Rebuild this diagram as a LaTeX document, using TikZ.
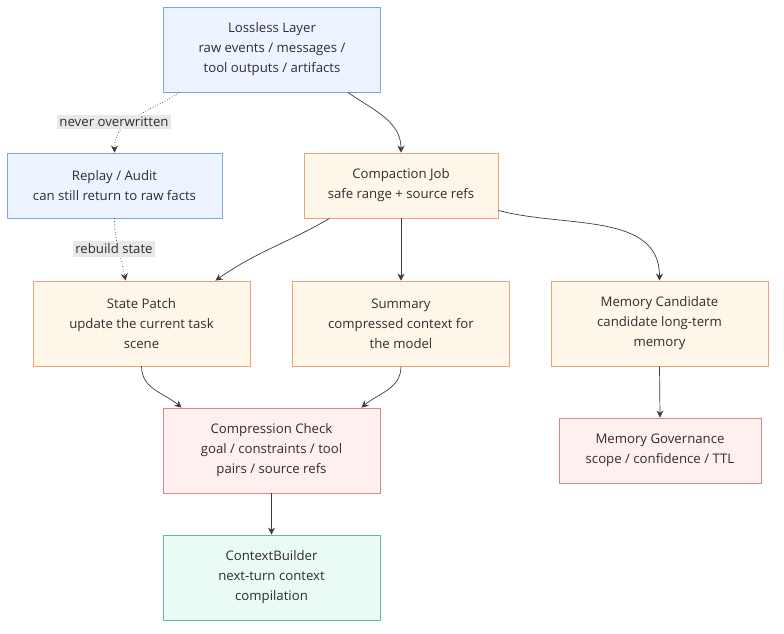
\documentclass[tikz,border=0pt]{standalone}
\usepackage{fontspec}
\setmainfont{Open Sans}
\usetikzlibrary{arrows.meta}

\definecolor{textgray}{HTML}{2E2E2E}
\definecolor{linegray}{HTML}{3C3C3C}
\definecolor{labelbg}{HTML}{E8E8E8}
\definecolor{bluefill}{HTML}{EDF4FF}
\definecolor{blueline}{HTML}{7BA6E6}
\definecolor{orangefill}{HTML}{FFF6EA}
\definecolor{orangeline}{HTML}{EFA273}
\definecolor{redfill}{HTML}{FFF0F0}
\definecolor{redline}{HTML}{E08585}
\definecolor{greenfill}{HTML}{EAFBF3}
\definecolor{greenline}{HTML}{5BBE97}

\tikzset{
  box/.style={draw, rectangle, align=center, text=textgray, line width=0.9pt,
    font=\fontsize{13.2}{20}\selectfont, minimum width=217, minimum height=85},
  bluebox/.style={box, fill=bluefill, draw=blueline},
  orangebox/.style={box, fill=orangefill, draw=orangeline},
  redbox/.style={box, fill=redfill, draw=redline},
  greenbox/.style={box, fill=greenfill, draw=greenline},
  flow/.style={->, >={Stealth[length=7pt,width=7pt]}, draw=linegray, line width=0.7pt},
  dots/.style={flow, dotted},
  edgelabel/.style={fill=labelbg, text=textgray, inner sep=2.5pt,
    font=\fontsize{13.2}{15}\selectfont}
}

\begin{document}
\begin{tikzpicture}[x=1pt,y=-1pt]
  \useasboundingbox (0,0) rectangle (784,634);

  % top
  \node[bluebox] (lossless) at (272,49.5)
    {Lossless Layer\\raw events / messages /\\tool outputs / artifacts};

  % second row
  \node[bluebox, minimum width=215, minimum height=65] (replay) at (114.5,185.5)
    {Replay / Audit\\can still return to raw facts};
  \node[orangebox, minimum width=194, minimum height=65] (compact) at (401,185.5)
    {Compaction Job\\safe range + source refs};

  % third row
  \node[orangebox] (patch) at (141.5,323.5)
    {State Patch\\update the current task\\scene};
  \node[orangebox] (summary) at (401,323.5)
    {Summary\\compressed context for\\the model};
  \node[orangebox] (candidate) at (659.5,323.5)
    {Memory Candidate\\candidate long-term\\memory};

  % checks
  \node[redbox] (check) at (271.5,450.5)
    {Compression Check\\goal / constraints / tool\\pairs / source refs};
  \node[redbox, minimum width=202, minimum height=65] (governance) at (660,450.5)
    {Memory Governance\\scope / confidence / TTL};

  % output
  \node[greenbox] (builder) at (271.5,577.5)
    {ContextBuilder\\next-turn context\\compilation};

  % edges
  \draw[dots] ([xshift=16]lossless.south west) to[out=-145,in=90] (replay.north);
  \draw[flow] ([xshift=-33]lossless.south east) to[out=-35,in=90] (compact.north);
  \draw[dots] (replay.south) to[out=-90,in=100] ([xshift=-16]patch.north);
  \draw[flow] ([xshift=26]compact.south west) to[out=-150,in=35] ([xshift=-35]patch.north east);
  \draw[flow] (compact.south) -- (summary.north);
  \draw[flow] ([yshift=8]compact.south east) to[out=-15,in=90] (candidate.north);
  \draw[flow] (patch.south) to[out=-90,in=140] ([xshift=19]check.north west);
  \draw[flow] (summary.south) to[out=-90,in=40] ([xshift=-19]check.north east);
  \draw[flow] (candidate.south) -- (governance.north);
  \draw[flow] (check.south) -- (builder.north);

  % labels
  \node[edgelabel] (overwrite) at (114,122) {never overwritten};
  \node[edgelabel] (rebuild) at (114,249) {rebuild state};
\end{tikzpicture}
\end{document}
